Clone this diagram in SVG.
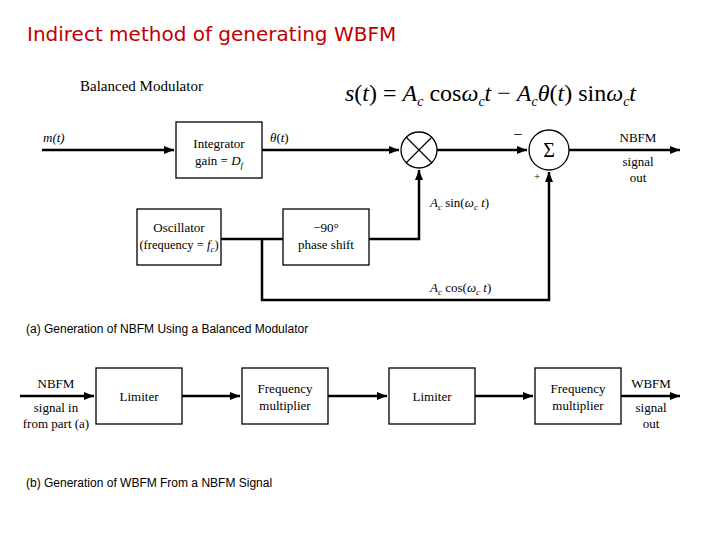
<svg xmlns="http://www.w3.org/2000/svg" width="720" height="540" viewBox="0 0 720 540">
<defs><marker id="a" markerWidth="10" markerHeight="8" refX="10" refY="4" orient="auto" markerUnits="userSpaceOnUse"><path d="M0,0 L10,4 L0,8 Z" fill="#000"/></marker></defs>
<style>
.b{fill:#fff;stroke:#000;stroke-width:1.3}
.l{fill:none;stroke:#000;stroke-width:2.5}
.t{font-family:"Liberation Serif",serif;font-size:13px;text-anchor:middle}
.i{font-style:italic}
.c{font-family:"Liberation Sans",sans-serif;font-size:12px}
</style>
<rect width="720" height="540" fill="#fff"/>
<text x="27" y="41" font-family="DejaVu Sans,sans-serif" font-size="20" fill="#c00000">Indirect method of generating WBFM</text>
<text x="80" y="91" font-family="Liberation Serif,serif" font-size="15">Balanced Modulator</text>
<text x="345" y="101" font-family="Liberation Serif,serif" font-size="24"><tspan font-style="italic">s</tspan>(<tspan font-style="italic">t</tspan>) = <tspan font-style="italic">A</tspan><tspan font-style="italic" font-size="14" dy="5">c</tspan><tspan dy="-5"> cos</tspan><tspan font-style="italic">ω</tspan><tspan font-style="italic" font-size="14" dy="5">c</tspan><tspan font-style="italic" dy="-5">t</tspan> − <tspan font-style="italic">A</tspan><tspan font-style="italic" font-size="14" dy="5">c</tspan><tspan font-style="italic" dy="-5">θ</tspan>(<tspan font-style="italic">t</tspan>) sin<tspan font-style="italic">ω</tspan><tspan font-style="italic" font-size="14" dy="5">c</tspan><tspan font-style="italic" dy="-5">t</tspan></text>
<g id="connectors">
<path class="l" d="M42,150 H174" marker-end="url(#a)"/>
<path class="l" d="M262,150 H399" marker-end="url(#a)"/>
<path class="l" d="M437,150 H527" marker-end="url(#a)"/>
<path class="l" d="M569,150 H680" marker-end="url(#a)"/>
<path class="l" d="M221,239 H283"/>
<path class="l" d="M369,239 H419 V170" marker-end="url(#a)"/>
<path class="l" d="M262,239 V300 H549 V172" marker-end="url(#a)"/>
<path class="l" d="M20,396 H94" marker-end="url(#a)"/>
<path class="l" d="M182,396 H240" marker-end="url(#a)"/>
<path class="l" d="M328,396 H387" marker-end="url(#a)"/>
<path class="l" d="M475,396 H533" marker-end="url(#a)"/>
<path class="l" d="M621,396 H680" marker-end="url(#a)"/>
</g>
<g id="integrator"><rect class="b" x="176" y="122" width="86" height="56"/><text class="t" x="219" y="148">Integrator</text><text class="t" x="219" y="165">gain = <tspan class="i">D</tspan><tspan class="i" font-size="9" dy="3">f</tspan></text></g>
<g id="mult"><circle class="b" cx="419" cy="150" r="18"/><path d="M406,137 L432,163 M432,137 L406,163" stroke="#000" stroke-width="1.2"/></g>
<g id="sum"><circle class="b" cx="549" cy="150" r="20"/><text class="t" x="549" y="157" style="font-size:20px">Σ</text><text class="t" x="518" y="140" style="font-size:16px">−</text><text class="t" x="537" y="180" style="font-size:11px">+</text></g>
<g id="osc"><rect class="b" x="137" y="209" width="84" height="56"/><text class="t" x="179" y="232">Oscillator</text><text class="t" x="179" y="249" style="font-size:12.5px">(frequency = <tspan class="i">f</tspan><tspan class="i" font-size="9" dy="3">c</tspan><tspan dy="-3">)</tspan></text></g>
<g id="phase"><rect class="b" x="283" y="209" width="86" height="56"/><text class="t" x="326" y="232">−90°</text><text class="t" x="326" y="249">phase shift</text></g>
<g font-family="Liberation Serif,serif" font-size="13">
<text x="43" y="142" class="i">m(t)</text>
<text x="270" y="142"><tspan class="i">θ</tspan>(<tspan class="i">t</tspan>)</text>
<text x="430" y="207"><tspan class="i">A</tspan><tspan class="i" font-size="9" dy="3">c</tspan><tspan dy="-3"> sin(</tspan><tspan class="i">ω</tspan><tspan class="i" font-size="9" dy="3">c</tspan><tspan class="i" dy="-3"> t</tspan>)</text>
<text x="430" y="292"><tspan class="i">A</tspan><tspan class="i" font-size="9" dy="3">c</tspan><tspan dy="-3"> cos(</tspan><tspan class="i">ω</tspan><tspan class="i" font-size="9" dy="3">c</tspan><tspan class="i" dy="-3"> t</tspan>)</text>
</g>
<text class="t" x="638" y="142">NBFM</text><text class="t" x="638" y="166">signal</text><text class="t" x="638" y="182">out</text>
<text x="26" y="333" class="c">(a) Generation of NBFM Using a Balanced Modulator</text>
<g id="lim1"><rect class="b" x="96" y="368" width="86" height="56"/><text class="t" x="139" y="401">Limiter</text></g>
<g id="fm1"><rect class="b" x="242" y="368" width="86" height="56"/><text class="t" x="285" y="393">Frequency</text><text class="t" x="285" y="410">multiplier</text></g>
<g id="lim2"><rect class="b" x="389" y="368" width="86" height="56"/><text class="t" x="432" y="401">Limiter</text></g>
<g id="fm2"><rect class="b" x="535" y="368" width="86" height="56"/><text class="t" x="578" y="393">Frequency</text><text class="t" x="578" y="410">multiplier</text></g>
<text class="t" x="56" y="388">NBFM</text><text class="t" x="56" y="412">signal in</text><text class="t" x="56" y="428">from part (a)</text>
<text class="t" x="651" y="388">WBFM</text><text class="t" x="651" y="412">signal</text><text class="t" x="651" y="428">out</text>
<text x="26" y="487" class="c">(b) Generation of WBFM From a NBFM Signal</text>
</svg>
